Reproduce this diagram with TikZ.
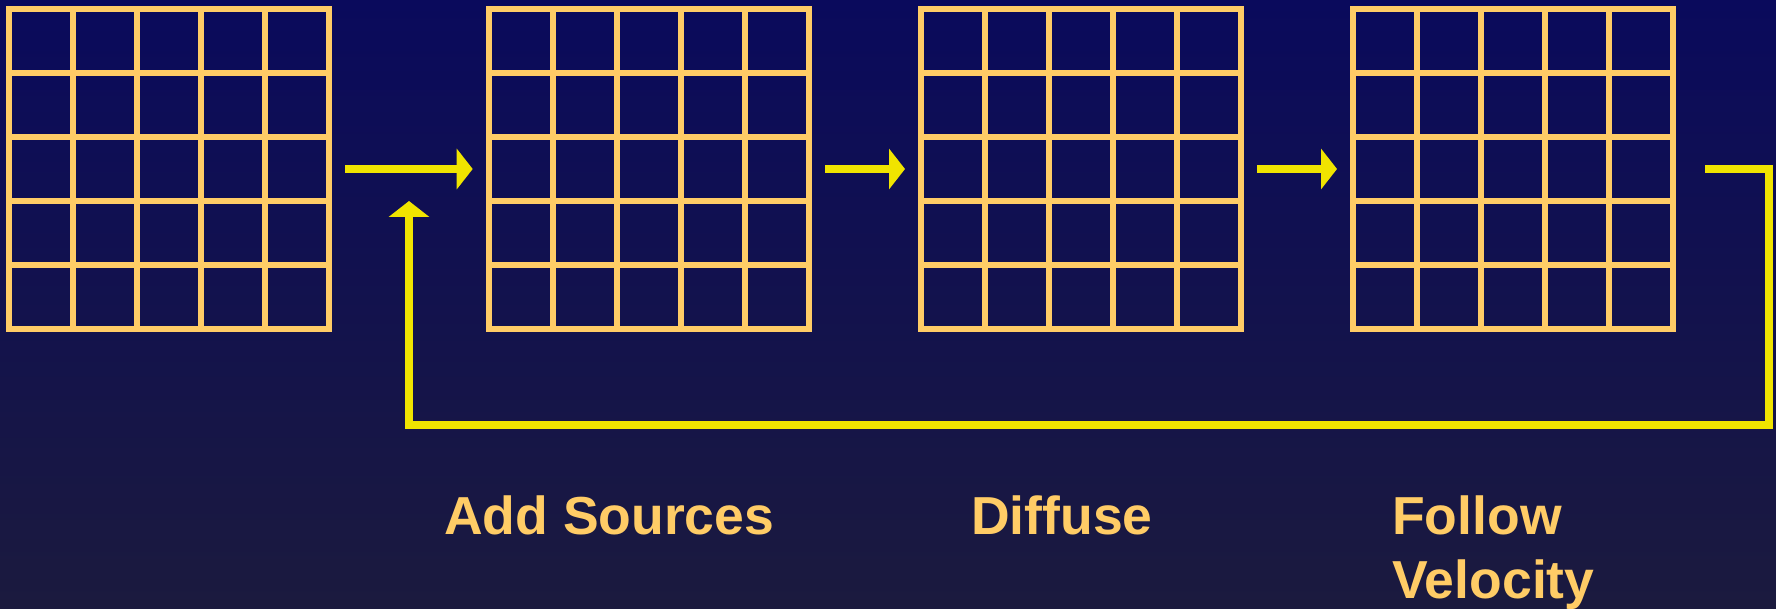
\documentclass[tikz,border=0pt]{standalone}
\usepackage{fontspec}
\setmainfont{Liberation Sans}
\usetikzlibrary{arrows.meta}

\definecolor{bgtop}{RGB}{10,10,92}
\definecolor{bgbot}{RGB}{27,26,62}
\definecolor{cellline}{RGB}{255,204,102}
\definecolor{flowyellow}{RGB}{240,228,0}

\tikzset{
  cellgrid/.style={
    draw=cellline, line width=6pt, minimum size=320pt, inner sep=0pt,
    outer sep=3pt,
    path picture={
      \foreach \k in {1,...,4} {
        \draw[cellline, line width=6pt]
          ([xshift=\k*64pt]path picture bounding box.north west) --
          ([xshift=\k*64pt]path picture bounding box.south west);
        \draw[cellline, line width=6pt]
          ([yshift=-\k*64pt]path picture bounding box.north west) --
          ([yshift=-\k*64pt]path picture bounding box.north east);
      }
    }
  },
  flow/.style={
    draw=flowyellow, line width=8pt, line join=miter,
    -{Triangle[width=40pt,length=16pt]}
  },
  stagelabel/.style={
    text=cellline, font=\fontsize{53.5}{64}\selectfont\bfseries,
    inner sep=0pt, anchor=base west, align=left
  }
}

\begin{document}
\begin{tikzpicture}[x=1pt,y=-1pt]
  % backdrop
  \shade[top color=bgtop, bottom color=bgbot] (0,0) rectangle (1776,609);
  \useasboundingbox (0,0) rectangle (1776,609);

  % the four field grids
  \node[cellgrid] (g1) at (169,169) {};
  \node[cellgrid] (g2) at (649,169) {};
  \node[cellgrid] (g3) at (1081,169) {};
  \node[cellgrid] (g4) at (1513,169) {};

  % forward steps
  \draw[flow, shorten <=13pt, shorten >=13.3pt] (g1.east) -- (g2.west);
  \draw[flow, shorten <=13pt, shorten >=13pt] (g2.east) -- (g3.west);
  \draw[flow, shorten <=13pt, shorten >=13pt] (g3.east) -- (g4.west);

  % feedback loop back to the start
  \coordinate (loopcorner) at (1769,425);
  \coordinate (loopend) at (409,201);
  \draw[flow, shorten <=29pt] (g4.east) -| (loopcorner) -| (loopend);

  % stage labels (base anchor sits on the last line)
  \node[stagelabel] (lbl2) at (444,534.5) {Add Sources};
  \node[stagelabel] (lbl3) at (971,534.5) {Diffuse};
  \node[stagelabel] (lbl4) at (1392,598.5) {Follow\\Velocity};
\end{tikzpicture}
\end{document}
